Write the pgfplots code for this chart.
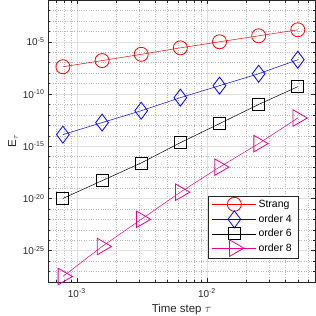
\documentclass[border=0pt]{standalone}
\usepackage{fontspec}
\setmainfont{Liberation Sans}
\usepackage{pgfplots}
\pgfplotsset{compat=1.18}
\definecolor{axgray}{gray}{0.15}
\definecolor{majgrid}{gray}{0.88}
\definecolor{mingrid}{gray}{0.72}
\begin{document}
\fontsize{10}{12}\selectfont
\begin{tikzpicture}
\useasboundingbox (-48bp,-34bp) rectangle (268bp,282bp);
\begin{loglogaxis}[
  at={(0,0)}, anchor=south west, scale only axis,
  width=267bp, height=282bp,
  xmin=6e-4, xmax=0.0678, ymin=1e-28, ymax=1e-1,
  xtick={1e-3,1e-2},
  xticklabels={10\textsuperscript{-3},10\textsuperscript{-2}},
  minor xtick={6e-4,7e-4,8e-4,9e-4,2e-3,3e-3,4e-3,5e-3,6e-3,7e-3,8e-3,9e-3,2e-2,3e-2,4e-2,5e-2,6e-2},
  ytick={1e-25,1e-20,1e-15,1e-10,1e-5},
  yticklabels={10\textsuperscript{-25},10\textsuperscript{-20},10\textsuperscript{-15},10\textsuperscript{-10},10\textsuperscript{-5}},
  minor ytick={1e-28,1e-27,1e-26,1e-24,1e-23,1e-22,1e-21,1e-19,1e-18,1e-17,1e-16,1e-14,1e-13,1e-12,1e-11,1e-9,1e-8,1e-7,1e-6,1e-4,1e-3,1e-2,1e-1},
  grid=both,
  major grid style={majgrid, line width=0.5pt},
  minor grid style={mingrid, dotted, line width=0.5pt},
  tick align=inside,
  major tick length=4bp, minor tick length=2.5bp,
  tick style={axgray, line width=0.5pt},
  axis line style={axgray, line width=0.5pt},
  ticklabel style={text=axgray, font=\fontsize{10}{12}\selectfont},
  xticklabel style={yshift=-3bp},
  label style={text=axgray, font=\fontsize{11.5}{13}\selectfont},
  xlabel={Time step $\tau$},
  xlabel style={yshift=0bp},
  ylabel={E$_\tau$},
  ylabel style={yshift=-2bp},
  legend style={at={(0.936,0.085)}, anchor=south east, draw=axgray, fill=white,
    font=\fontsize{10.5}{12}\selectfont, text=black, cells={anchor=west}, row sep=-0.5pt,
    inner xsep=4pt, inner ysep=1.5pt},
  legend image code/.code={\draw[mark repeat=2,mark phase=2,#1] plot coordinates {(0bp,0bp) (22bp,0bp) (44bp,0bp)};},
]
\addplot[red, line width=0.5pt, mark=o, mark size=7bp, mark options={solid, line width=0.8pt}] coordinates {
(0.00078125,4.07e-8) (0.0015625,1.58e-7) (0.003125,6.31e-7) (0.00625,2.63e-6) (0.0125,1.0e-5) (0.025,3.72e-5) (0.05,1.41e-4)};
\addlegendentry{Strang}
\addplot[blue, line width=0.5pt, mark=diamond, mark size=8.5bp, mark options={solid, line width=0.8pt}] coordinates {
(0.00078125,1.29e-14) (0.0015625,1.82e-13) (0.003125,2.51e-12) (0.00625,4.47e-11) (0.0125,6.31e-10) (0.025,8.71e-9) (0.05,1.91e-7)};
\addlegendentry{order 4}
\addplot[black, line width=0.5pt, mark=square, mark size=6bp, mark options={solid, line width=0.8pt}] coordinates {
(0.00078125,1.0e-20) (0.0015625,5.01e-19) (0.003125,2.51e-17) (0.00625,2.19e-15) (0.0125,1.45e-13) (0.025,1.0e-11) (0.05,5.01e-10)};
\addlegendentry{order 6}
\addplot[magenta, line width=0.5pt, mark=triangle, mark size=9.5bp, mark options={solid, line width=0.8pt, rotate=-90}] coordinates {
(0.00078125,3.39e-28) (0.0015625,2.51e-25) (0.003125,1.0e-22) (0.00625,3.98e-20) (0.0125,1.0e-17) (0.025,1.78e-15) (0.05,5.01e-13)};
\addlegendentry{order 8}
\end{loglogaxis}
\end{tikzpicture}
\end{document}
